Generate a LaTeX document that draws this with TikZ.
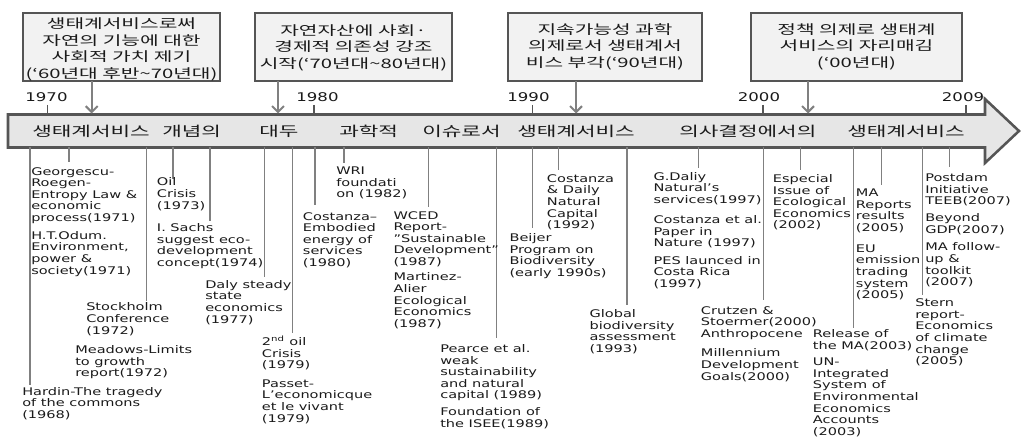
\documentclass[tikz,border=0pt]{standalone}
\usepackage{fontspec}
\setmainfont{DejaVu Sans}[FakeStretch=1.38]
\newfontfamily\kr{Noto Sans CJK KR}[FakeStretch=1.55]
\usetikzlibrary{arrows.meta}
\definecolor{bandfill}{HTML}{E6E6E6}
\definecolor{boxfill}{HTML}{F2F2F2}
\definecolor{edge}{HTML}{555555}
\definecolor{leadc}{HTML}{808080}
\definecolor{ink}{HTML}{1A1A1A}
\begin{document}
\begin{tikzpicture}[x=0.75pt,y=-0.75pt,
  evt/.style={anchor=north west, inner sep=0pt, align=left, text=ink, font=\fontsize{7.9pt}{8.7pt}\selectfont},
  leadline/.style={draw=leadc, line width=0.8pt},
  topbox/.style={draw=edge, fill=boxfill, line width=1.5pt},
  boxtext/.style={align=center, inner sep=0pt, text=ink, font=\kr\fontsize{9.8pt}{12.4pt}\selectfont},
  yearlbl/.style={inner sep=0pt, text=ink, font=\fontsize{9pt}{9pt}\selectfont},
  bandtxt/.style={anchor=west, inner sep=0pt, text=ink, font=\kr\fontsize{10.3pt}{12pt}\selectfont},
  pointer/.style={draw=leadc, line width=1.5pt, -{Straight Barb[length=4.5pt,width=9pt]}},
  tickmark/.style={draw=edge, line width=1.1pt}
]
\useasboundingbox (0,0) rectangle (1022,441);

% band arrow
\draw[draw=edge, fill=bandfill, line width=1.9pt, line join=miter]
  (8,114.5) -- (985,114.5) -- (985,99) -- (1019,131) -- (985,163) -- (985,147.5) -- (8,147.5) -- cycle;

% band texts
\node[bandtxt] (w1) at (32,131) {생태계서비스};
\node[bandtxt] (w2) at (162,131) {개념의};
\node[bandtxt] (w3) at (259,131) {대두};
\node[bandtxt] (w4) at (339,131) {과학적};
\node[bandtxt] (w5) at (422,131) {이슈로서};
\node[bandtxt] (w6) at (517,131) {생태계서비스};
\node[bandtxt] (w7) at (679,131) {의사결정에서의};
\node[bandtxt] (w8) at (847,131) {생태계서비스};

% top boxes
\draw[topbox] (23,13) rectangle (220,81);
\node[boxtext] (b1) at (121.5,49.5) {생태계서비스로써\\자연의 기능에 대한\\사회적 가치 제기\\(‘60년대 후반\textasciitilde 70년대)};
\draw[topbox] (255,13) rectangle (452,81);
\node[boxtext] (b2) at (353.5,47.5) {자연자산에 사회·\\경제적 의존성 강조\\시작(‘70년대\textasciitilde 80년대)};
\draw[topbox] (508,13) rectangle (702,81);
\node[boxtext] (b3) at (605,46.7) {지속가능성 과학\\의제로서 생태계서\\비스 부각(‘90년대)};
\draw[topbox] (751,13) rectangle (962,81);
\node[boxtext] (b4) at (856.5,46.7) {정책 의제로 생태계\\서비스의 자리매김\\(‘00년대)};

\draw[pointer] (91.7,81) -- (91.7,113.5);
\draw[pointer] (278,81) -- (278,113.5);
\draw[pointer] (576,81) -- (576,113.5);
\draw[pointer] (808,81) -- (808,113.5);

% years
\node[yearlbl] (y70) at (46.5,97.5) {1970};
\node[yearlbl] (y80) at (317.5,97.5) {1980};
\node[yearlbl] (y90) at (528.5,97.5) {1990};
\node[yearlbl] (y00) at (759,97.5) {2000};
\node[yearlbl] (y09) at (963,97.5) {2009};
\draw[tickmark] (47.7,105) -- (47.7,114.5);
\draw[tickmark] (314,105) -- (314,114.5);
\draw[tickmark] (532.7,105) -- (532.7,114.5);
\draw[tickmark] (763,105) -- (763,114.5);
\draw[tickmark] (966,105) -- (966,114.5);

% leads
\draw[leadline] (30,147.5) -- (30,385);
\draw[leadline] (69,147.5) -- (69,161.7);
\draw[leadline] (146.7,147.5) -- (146.7,300.7);
\draw[leadline] (173,147.5) -- (173,179.3);
\draw[leadline] (210,147.5) -- (210,221.5);
\draw[leadline] (264.3,147.5) -- (264.3,276.7);
\draw[leadline] (292.7,147.5) -- (292.7,333.3);
\draw[leadline] (315,147.5) -- (315,205);
\draw[leadline] (344,147.5) -- (344,163.3);
\draw[leadline] (428.3,147.5) -- (428.3,206.7);
\draw[leadline] (496.7,147.5) -- (496.7,338.3);
\draw[leadline] (532.5,147.5) -- (532.5,228.3);
\draw[leadline] (558.3,147.5) -- (558.3,170);
\draw[leadline] (627,147.5) -- (627,305);
\draw[leadline] (698.7,147.5) -- (698.7,168.3);
\draw[leadline] (763.3,147.5) -- (763.3,300);
\draw[leadline] (800.5,147.5) -- (800.5,170);
\draw[leadline] (853.3,147.5) -- (853.3,328.3);
\draw[leadline] (881.7,147.5) -- (881.7,185);
\draw[leadline] (922.5,147.5) -- (922.5,295);
\draw[leadline] (949.2,147.5) -- (949.2,166.7);

% events
\node[evt] (hardin) at (22,387) {Hardin-The tragedy\\of the commons\\(1968)};
\node[evt] (georg) at (31,167) {Georgescu-\\Roegen-\\Entropy Law \&\\economic\\process(1971)};
\node[evt] (odum) at (31,231) {H.T.Odum.\\Environment,\\power \&\\society(1971)};
\node[evt] (stock) at (86,302.7) {Stockholm\\Conference\\(1972)};
\node[evt] (meadows) at (75,345.3) {Meadows-Limits\\to growth\\report(1972)};
\node[evt] (oil) at (156.7,177.7) {Oil\\Crisis\\(1973)};
\node[evt] (sachs) at (156.7,223.3) {I. Sachs\\suggest eco-\\development\\concept(1974)};
\node[evt] (daly) at (205,280) {Daly steady\\state\\economics\\(1977)};
\node[evt] (oil2) at (261.7,336) {2\textsuperscript{nd} oil\\Crisis\\(1979)};
\node[evt] (passet) at (261.7,379.3) {Passet-\\L'economicque\\et le vivant\\(1979)};
\node[evt] (cost80) at (302.7,212) {Costanza–\\Embodied\\energy of\\services\\(1980)};
\node[evt] (wri) at (336,166.7) {WRI\\foundati\\on (1982)};
\node[evt] (wced) at (393.3,211) {WCED\\Report-\\"Sustainable\\Development"\\(1987)};
\node[evt] (martinez) at (393.3,272.7) {Martinez-\\Alier\\Ecological\\Economics\\(1987)};
\node[evt] (pearce) at (440,344.3) {Pearce et al.\\weak\\sustainability\\and natural\\capital (1989)};
\node[evt] (isee) at (440,407.7) {Foundation of\\the ISEE(1989)};
\node[evt] (beijer) at (509.3,233.3) {Beijer\\Program on\\Biodiversity\\(early 1990s)};
\node[evt] (cd92) at (546.7,174.3) {Costanza\\\& Daily\\Natural\\Capital\\(1992)};
\node[evt] (gba) at (589.3,309.3) {Global\\biodiversity\\assessment\\(1993)};
\node[evt] (daliy) at (653.3,172) {G.Daliy\\Natural's\\services(1997)};
\node[evt] (nature) at (653.3,215.3) {Costanza et al.\\Paper in\\Nature (1997)};
\node[evt] (pes) at (653.3,256) {PES launced in\\Costa Rica\\(1997)};
\node[evt] (crutzen) at (700.7,306) {Crutzen \&\\Stoermer(2000)\\Anthropocene};
\node[evt] (mdg) at (700.7,348.7) {Millennium\\Development\\Goals(2000)};
\node[evt] (esp) at (772.7,174.3) {Especial\\Issue of\\Ecological\\Economics\\(2002)};
\node[evt] (marel) at (812.7,329.3) {Release of\\the MA(2003)};
\node[evt] (seea) at (812.7,357.7) {UN-\\Integrated\\System of\\Environmental\\Economics\\Accounts\\(2003)};
\node[evt] (mares) at (855.7,188.7) {MA\\Reports\\results\\(2005)};
\node[evt] (ets) at (855.7,244.3) {EU\\emission\\trading\\system\\(2005)};
\node[evt] (stern) at (915,298.7) {Stern\\report-\\Economics\\of climate\\change\\(2005)};
\node[evt] (teeb) at (925,173.3) {Postdam\\Initiative\\TEEB(2007)};
\node[evt] (gdp) at (925,213.3) {Beyond\\GDP(2007)};
\node[evt] (mafu) at (925,242.7) {MA follow-\\up \&\\toolkit\\(2007)};
\end{tikzpicture}
\end{document}
